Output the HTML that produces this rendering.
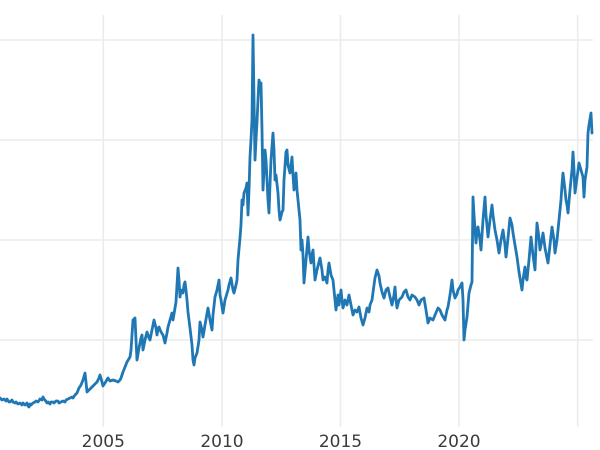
<!DOCTYPE html>
<html>
<head>
<meta charset="utf-8">
<style>
  html, body { margin:0; padding:0; background:#fff; }
  svg { display:block; }
  text { font-family: "DejaVu Sans", "Liberation Sans", sans-serif; font-size:17px; fill:#3b3b3b; }
</style>
</head>
<body>
<svg width="600" height="450" viewBox="0 0 600 450" xmlns="http://www.w3.org/2000/svg">
  <rect x="0" y="0" width="600" height="450" fill="#ffffff"/>
  <g stroke="#ebebeb" stroke-width="1.6" fill="none">
    <line x1="0" y1="40" x2="593" y2="40"/>
    <line x1="0" y1="140" x2="593" y2="140"/>
    <line x1="0" y1="240" x2="593" y2="240"/>
    <line x1="0" y1="340" x2="593" y2="340"/>
    <line x1="103.3" y1="15" x2="103.3" y2="427"/>
    <line x1="222" y1="15" x2="222" y2="427"/>
    <line x1="340.5" y1="15" x2="340.5" y2="427"/>
    <line x1="459" y1="15" x2="459" y2="427"/>
    <line x1="577.7" y1="15" x2="577.7" y2="427"/>
  </g>
  <polyline fill="none" stroke="#1f77b4" stroke-width="2.8" stroke-linejoin="round" stroke-linecap="round" points="0,398 2,400 4,399 6,401 7,399 9,402 10,402 12,400 13,402 15,403 16,402 18,404 20,403 22,405 23,403 25,405 27,403 28,406 29,407 30,404 31,405 33,403 35,402 36,401 38,402 40,399 42,400 43,397 44,399 45,400 47,403 48,402 50,404 51,402 53,402 54,403 56,401 58,401 59,403 61,402 63,401 65,402 66,400 68,399 70,398 72,397 73,398 75,395 77,393 79,388 81,385 83,380 85,373 86,382 87,392 89,390 92,387 94,385 97,382 99,378 100,375 102,382 103,386 105,383 108,378 110,381 113,380 116,381 118,382 120,380 121,378 123,372 125,367 127,362 130,357 131,350 132,335 133,320 135,318 136,340 137,360 139,348 141,338 142,335 143,350 145,340 147,332 149,338 150,340 152,330 154,320 156,328 157,335 158,329 159,327 161,332 163,335 165,343 167,333 168,327 170,320 172,313 173,320 175,308 176,302 177,285 178,268 179,280 180,297 181,290 183,293 184,285 185,282 186,290 187,300 188,312 190,328 192,345 193,360 194,365 195,358 197,353 199,340 200,322 202,330 203,337 205,325 208,308 210,320 212,330 213,315 215,297 217,290 219,280 220,295 221,300 223,313 225,300 228,290 229,285 231,278 233,290 234,293 236,285 237,280 238,260 240,238 241,225 242,200 243,205 244,193 246,188 247,183 248,215 249,190 250,157 251,140 252,120 253,35 254,100 255,160 256,140 257,122 258,100 259,80 260,85 261,83 262,130 263,190 264,170 265,150 266,160 267,180 268,200 269,213 270,185 271,160 273,133 274,150 275,180 276,175 278,193 279,210 280,220 282,212 283,210 284,180 286,152 287,150 288,165 290,173 291,165 292,157 293,175 294,190 295,180 296,173 297,190 298,200 300,220 301,250 302,240 303,255 304,283 306,260 308,237 309,250 311,263 312,255 313,250 314,265 315,280 317,270 320,258 322,270 323,280 325,277 327,283 328,270 329,263 331,275 333,280 334,290 336,310 338,295 339,305 341,290 342,300 343,308 345,300 347,305 349,295 351,305 353,315 355,310 357,312 359,307 361,318 363,325 365,318 367,308 369,312 370,305 372,300 374,285 375,278 377,270 379,276 380,283 382,292 384,298 386,290 388,288 390,297 392,305 394,295 395,287 396,300 397,308 399,300 402,297 404,292 406,290 408,297 410,300 412,295 415,297 417,300 419,305 421,300 424,298 426,310 428,323 430,318 433,320 435,315 438,308 440,310 442,315 445,320 447,310 448,307 450,295 452,280 453,290 455,298 457,294 458,290 460,287 462,283 463,300 464,340 465,330 467,317 468,305 469,293 471,285 472,282 473,197 474,215 476,243 477,230 478,227 480,240 481,250 483,220 485,197 486,215 488,237 490,220 492,205 493,215 495,230 497,240 499,253 501,240 503,230 505,245 506,257 508,238 510,218 512,225 513,233 515,245 517,257 519,272 522,290 523,280 525,267 526,278 527,280 529,260 531,237 533,255 535,270 536,245 537,223 539,238 540,250 542,240 543,233 545,248 548,263 550,245 552,227 554,240 555,253 557,240 559,220 561,200 562,185 563,173 565,190 566,200 567,205 568,213 570,190 572,170 573,152 574,170 575,193 577,178 579,163 581,170 583,177 584,197 585,180 587,167 588,133 589,125 591,113 592,133"/>
  <g text-anchor="middle">
    <text x="103.3" y="447">2005</text>
    <text x="222" y="447">2010</text>
    <text x="340.5" y="447">2015</text>
    <text x="459" y="447">2020</text>
  </g>
</svg>
</body>
</html>
